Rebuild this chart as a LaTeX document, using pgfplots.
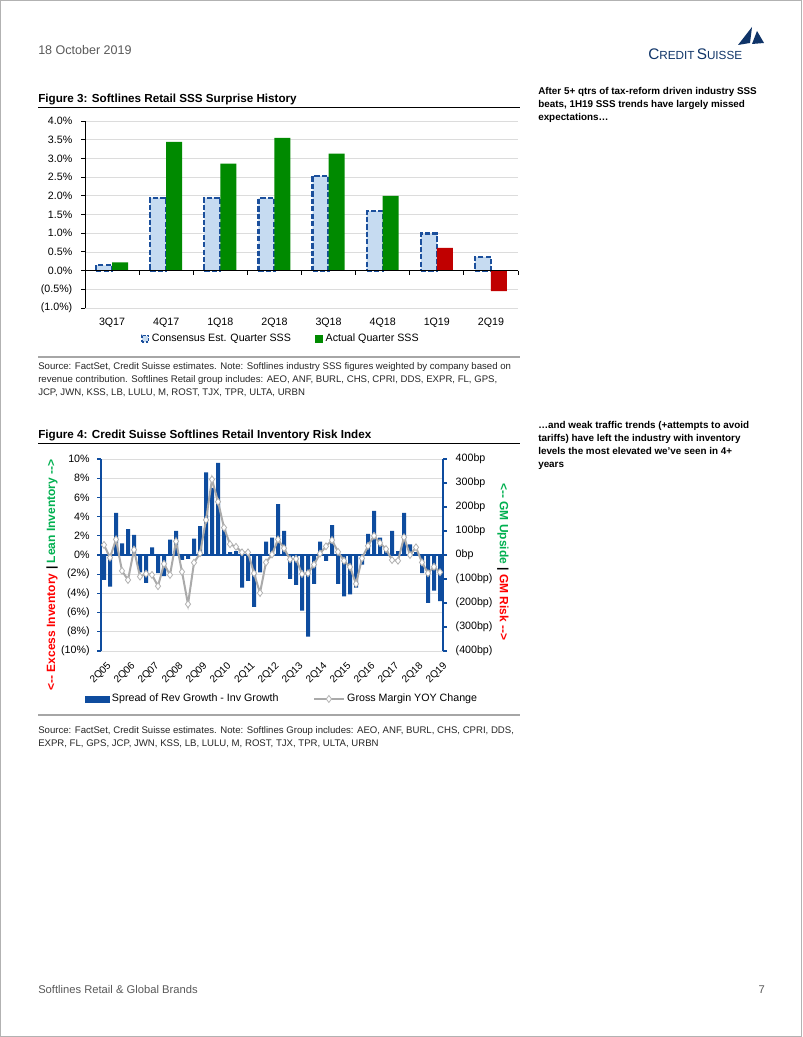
\documentclass[border=0pt]{standalone}
\usepackage{fontspec}
\setmainfont{Liberation Sans}
\usepackage{pgfplots}
\usepackage{pgfplotstable}
\pgfplotsset{compat=1.18}

\definecolor{csnavy}{HTML}{0F3468}
\definecolor{consfill}{HTML}{C6DBF1}
\definecolor{consedge}{HTML}{1B4F9C}
\definecolor{actgreen}{HTML}{008A00}
\definecolor{actred}{HTML}{C00000}
\definecolor{barblue}{HTML}{0E4C9E}
\definecolor{gmgray}{HTML}{AAAAAA}
\definecolor{gridgray}{HTML}{DCDCDC}
\definecolor{txtgray}{HTML}{5A5A5A}
\definecolor{lblred}{HTML}{FF0000}
\definecolor{lblgreen}{HTML}{00B050}

\newcommand{\tickfont}{\fontsize{8}{9.6}\selectfont}
\newcommand{\srcfont}{\fontsize{7.2}{8.6}\selectfont}

\pgfplotstableread{
x cons
0 0.14
1 1.95
2 1.95
3 1.93
4 2.53
5 1.59
6 0.99
7 0.37
}\consdata

\pgfplotstableread{
i spread gm
0 -2.6 42
1 -3.3 -11
2 4.4 65
3 1.2 -66
4 2.7 -104
5 2.1 22
6 -1.8 -90
7 -2.9 -78
8 0.8 -83
9 -1.9 -130
10 -2.2 -37
11 1.6 -83
12 2.5 57
13 -0.5 -70
14 -0.4 -205
15 1.7 -32
16 3.0 7
17 8.6 146
18 7.0 315
19 9.6 222
20 2.7 114
21 0.3 45
22 0.4 34
23 -3.4 11
24 -2.7 11
25 -5.4 -76
26 -1.8 -158
27 1.4 -31
28 1.8 2
29 5.3 65
30 2.5 28
31 -2.5 -18
32 -3.1 -16
33 -5.8 -79
34 -8.5 -76
35 -3.0 -40
36 1.4 6
37 -0.6 36
38 3.1 62
39 -3.0 13
40 -4.3 -24
41 -4.1 -50
42 -3.4 -120
43 -1.0 -14
44 2.2 38
45 4.6 80
46 1.8 50
47 0.6 25
48 2.5 -21
49 0.4 -24
50 4.4 74
51 1.1 0
52 0.3 32
53 -1.9 -31
54 -5.0 -76
55 -3.7 -49
56 -4.8 -72
}\riskdata

\begin{document}
\begin{tikzpicture}
\path[use as bounding box] (0,0) rectangle (601.5pt,777.75pt);
\fill[white] (0,0) rectangle (601.5pt,777.75pt);
\begin{scope}[x=0.75pt,y=-0.75pt,yshift=777.75pt]
  % page frame
  \draw[gray!60, line width=0.6pt] (0.5,0.5) rectangle (801.5,1036.5);
  % header
  \node[anchor=base west, inner sep=0pt, text=txtgray, font=\fontsize{9.4}{11}\selectfont] at (38,55) {18 October 2019};
  \node[anchor=base west, inner sep=0pt, text=csnavy] at (648,60) {{\fontsize{11.5}{12}\selectfont C}{\fontsize{8.8}{9}\selectfont REDIT}\,{\fontsize{11.5}{12}\selectfont S}{\fontsize{8.8}{9}\selectfont UISSE}};
  \fill[csnavy] (738,45) -- (752,27) -- (750,43) -- cycle;
  \fill[csnavy] (752,44) -- (757,31) -- (764,43) -- cycle;
  % figure 3 title
  \node[anchor=base west, inner sep=0pt, font=\bfseries\fontsize{8.75}{10}\selectfont] at (38,103) {Figure 3: Softlines Retail SSS Surprise History};
  \draw[black, line width=0.75pt] (38,108) -- (520,108);
  % side text 1
  \begin{scope}[every node/.style={anchor=base west, inner sep=0pt, font=\bfseries\fontsize{7.4}{9}\selectfont}]
    \node at (538,95) {After 5+ qtrs of tax-reform driven industry SSS};
    \node at (538,108) {beats, 1H19 SSS trends have largely missed};
    \node at (538,121) {expectations\ldots};
  \end{scope}
  % separators
  \draw[gray!70, line width=1.1pt] (38,357) -- (520,357);
  \begin{scope}[every node/.style={anchor=base west, inner sep=0pt, text=black!85, font=\srcfont}]
    \node at (38,370) {Source: FactSet, Credit Suisse estimates. Note: Softlines industry SSS figures weighted by company based on};
    \node at (38,383) {revenue contribution. Softlines Retail group includes: AEO, ANF, BURL, CHS, CPRI, DDS, EXPR, FL, GPS,};
    \node at (38,396) {JCP, JWN, KSS, LB, LULU, M, ROST, TJX, TPR, ULTA, URBN};
  \end{scope}
  % figure 4 title
  \node[anchor=base west, inner sep=0pt, font=\bfseries\fontsize{8.75}{10}\selectfont] at (38,439) {Figure 4: Credit Suisse Softlines Retail Inventory Risk Index};
  \draw[black, line width=0.75pt] (38,444) -- (520,444);
  \begin{scope}[every node/.style={anchor=base west, inner sep=0pt, font=\bfseries\fontsize{7.4}{9}\selectfont}]
    \node at (538,429) {\ldots and weak traffic trends (+attempts to avoid};
    \node at (538,442) {tariffs) have left the industry with inventory};
    \node at (538,455) {levels the most elevated we've seen in 4+};
    \node at (538,468) {years};
  \end{scope}
  % axis side labels chart 2
  \node[rotate=90, inner sep=0pt, font=\bfseries\fontsize{9}{10}\selectfont] at (52,575)
     {\textcolor{lblred}{<-{}- Excess Inventory} | \textcolor{lblgreen}{Lean Inventory -{}->}};
  \node[rotate=-90, inner sep=0pt, font=\bfseries\fontsize{9}{10}\selectfont] at (503,562)
     {\textcolor{lblgreen}{<-{}- GM Upside} | \textcolor{lblred}{GM Risk -{}->}};
  \draw[gray!70, line width=1.1pt] (38,715) -- (520,715);
  \begin{scope}[every node/.style={anchor=base west, inner sep=0pt, text=black!85, font=\srcfont}]
    \node at (38,734) {Source: FactSet, Credit Suisse estimates. Note: Softlines Group includes: AEO, ANF, BURL, CHS, CPRI, DDS,};
    \node at (38,747) {EXPR, FL, GPS, JCP, JWN, KSS, LB, LULU, M, ROST, TJX, TPR, ULTA, URBN};
  \end{scope}
  % footer
  \node[anchor=base west, inner sep=0pt, text=txtgray, font=\fontsize{8.4}{10}\selectfont] at (38,994) {Softlines Retail \& Global Brands};
  \node[anchor=base east, inner sep=0pt, text=txtgray, font=\fontsize{8.4}{10}\selectfont] at (765,994) {7};
\end{scope}

% ---------- Chart 1 ----------
\begin{axis}[
  at={(63.75pt,546.75pt)}, anchor=south west,
  scale only axis, width=324.75pt, height=140.25pt,
  xmin=-0.5, xmax=7.5, ymin=-1, ymax=4,
  axis y line*=left, axis x line*=bottom,
  x axis line style={draw=none},
  y axis line style={black, line width=0.6pt},
  xtick={0,1,2,3,4,5,6,7},
  xticklabels={3Q17,4Q17,1Q18,2Q18,3Q18,4Q18,1Q19,2Q19},
  x tick style={draw=none},
  ytick={-1,-0.5,0,0.5,1,1.5,2,2.5,3,3.5,4},
  yticklabels={(1.0\%),(0.5\%),0.0\%,0.5\%,1.0\%,1.5\%,2.0\%,2.5\%,3.0\%,3.5\%,4.0\%},
  y tick style={black, line width=0.6pt},
  tick align=outside, major tick length=3pt,
  ymajorgrids, grid style={gridgray, line width=0.5pt},
  tick label style={font=\tickfont},
  xticklabel style={yshift=-1pt},
  yticklabel style={xshift=-3pt},
  legend style={at={(0.453,-0.165)}, anchor=center, draw=none, fill=none,
    font=\tickfont, legend columns=2, inner sep=0pt,
    /tikz/every even column/.append style={column sep=16pt}},
  legend cell align=left,
  clip=false,
]
\addplot[ybar, bar width=12pt, bar shift=-6pt, fill=consfill, draw=consedge,
  line width=1.6pt, dash pattern=on 4pt off 1.6pt,
  legend image code/.code={\draw[fill=consfill, draw=consedge, line width=1.2pt, dash pattern=on 2pt off 1pt] (0pt,-2.5pt) rectangle (5pt,2.5pt);}]
  table[x=x,y=cons]{\consdata};
\addlegendentry{Consensus Est. Quarter SSS}
\addplot[ybar, bar width=12pt, bar shift=6pt, fill=actgreen, draw=none,
  legend image code/.code={\fill[actgreen] (0pt,-3pt) rectangle (6pt,3pt);}]
  coordinates {(0,0.22) (1,3.44) (2,2.86) (3,3.55) (4,3.13) (5,2.00)};
\addlegendentry{Actual Quarter SSS}
\addplot[ybar, bar width=12pt, bar shift=6pt, fill=actred, draw=none, forget plot]
  coordinates {(6,0.61) (7,-0.55)};
\draw[black, line width=0.6pt] (axis cs:-0.5,0) -- (axis cs:7.5,0);
\pgfplotsinvokeforeach{0.5,1.5,2.5,3.5,4.5,5.5,6.5,7.5}{\draw[black, line width=0.6pt] (axis cs:#1,0) -- ++(0pt,-3pt);}
\end{axis}

% ---------- Chart 2: bars ----------
\begin{axis}[
  at={(75.75pt,289.5pt)}, anchor=south west,
  scale only axis, width=256.5pt, height=144pt,
  xmin=-0.5, xmax=56.5, ymin=-10, ymax=10,
  axis y line*=left, axis x line*=bottom,
  x axis line style={draw=none},
  y axis line style={barblue, line width=0.8pt},
  y tick style={barblue, line width=0.8pt},
  tick align=outside, major tick length=3pt,
  ytick={-10,-8,-6,-4,-2,0,2,4,6,8,10},
  yticklabels={(10\%),(8\%),(6\%),(4\%),(2\%),0\%,2\%,4\%,6\%,8\%,10\%},
  xtick={0,4,8,12,16,20,24,28,32,36,40,44,48,52,56},
  xticklabels={2Q05,2Q06,2Q07,2Q08,2Q09,2Q10,2Q11,2Q12,2Q13,2Q14,2Q15,2Q16,2Q17,2Q18,2Q19},
  x tick style={draw=none},
  xticklabel style={rotate=45, anchor=north east, xshift=1.5pt, yshift=-1pt, font=\fontsize{7.6}{9}\selectfont},
  yticklabel style={xshift=-2pt},
  ymajorgrids, grid style={gridgray, line width=0.5pt},
  tick label style={font=\tickfont},
  clip=false,
]
\addplot[ybar, bar width=3pt, bar shift=0pt, fill=barblue, draw=none]
  table[x=i,y=spread]{\riskdata};
\draw[barblue, line width=0.8pt] (axis cs:-0.5,0) -- (axis cs:56.5,0);
\end{axis}

% ---------- Chart 2: line ----------
\begin{axis}[
  at={(75.75pt,289.5pt)}, anchor=south west,
  scale only axis, width=256.5pt, height=144pt,
  xmin=-0.5, xmax=56.5, ymin=-400, ymax=400,
  axis y line*=right, axis x line=none,
  y axis line style={barblue, line width=0.8pt},
  y tick style={barblue, line width=0.8pt},
  tick align=outside, major tick length=3pt,
  ytick={-400,-300,-200,-100,0,100,200,300,400},
  yticklabels={(400bp),(300bp),(200bp),(100bp),0bp,100bp,200bp,300bp,400bp},
  yticklabel style={xshift=3pt},
  tick label style={font=\tickfont},
  legend style={at={(0.53,-0.25)}, anchor=center, draw=none, fill=none,
    font=\tickfont, legend columns=2, inner sep=0pt,
    /tikz/every even column/.append style={column sep=24pt}},
  legend cell align=left,
  clip=false,
]
\addlegendimage{legend image code/.code={\fill[barblue] (0pt,-2.2pt) rectangle (18pt,2.2pt);}}
\addlegendentry{Spread of Rev Growth - Inv Growth}
\addplot[gmgray, line width=1.5pt, mark=diamond*, mark size=2.6pt,
  mark options={fill=white, draw=gmgray!90, line width=0.6pt},
  legend image code/.code={\draw[mark repeat=2, mark phase=2] plot coordinates {(0pt,0pt) (11pt,0pt) (22pt,0pt)};}]
  table[x=i,y=gm]{\riskdata};
\addlegendentry{Gross Margin YOY Change}
\end{axis}
\end{tikzpicture}
\end{document}
